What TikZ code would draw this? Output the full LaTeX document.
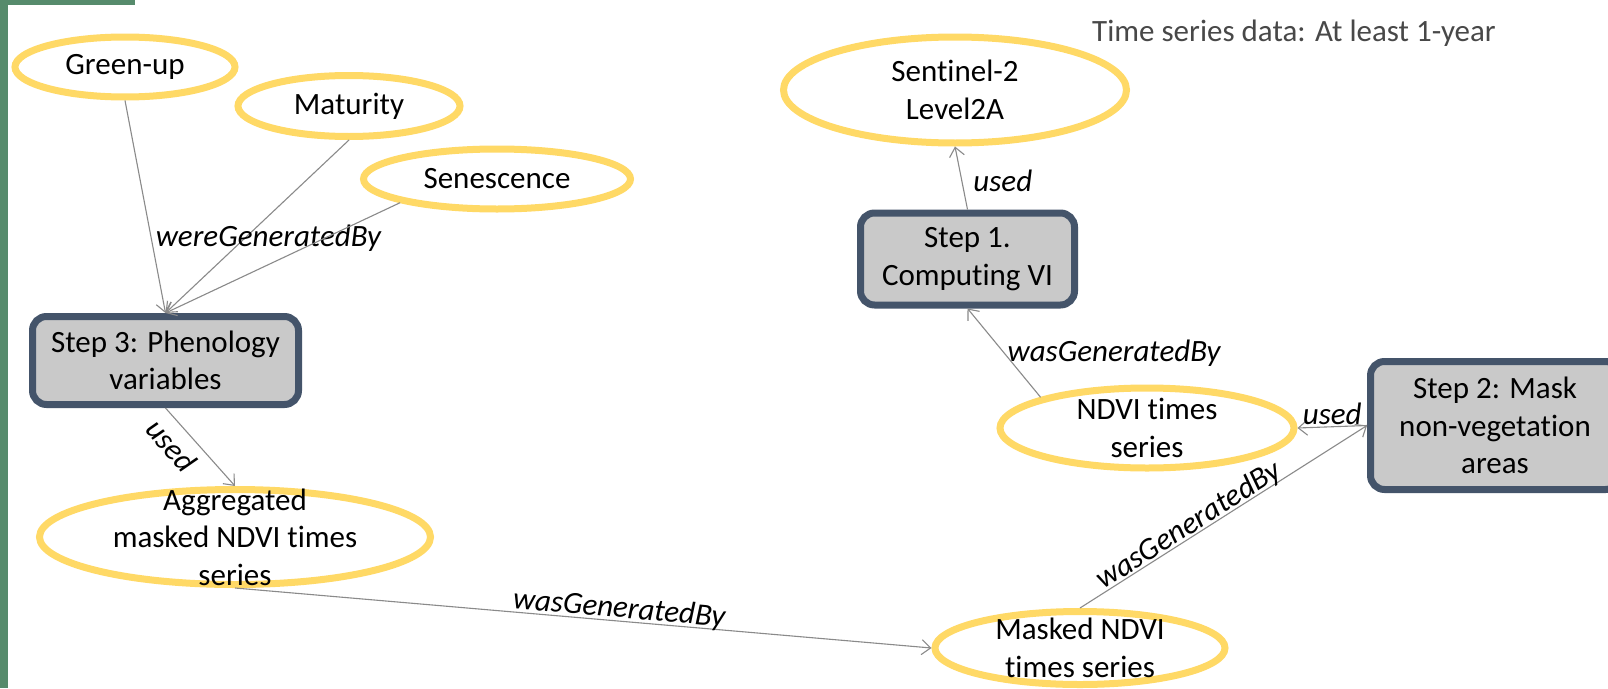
\documentclass[tikz,border=0pt]{standalone}
\usepackage{fontspec}
\setmainfont{Carlito}[Ligatures={NoCommon}]
\usetikzlibrary{arrows.meta,shapes.geometric}
\definecolor{barG}{RGB}{86,139,108}
\definecolor{ellY}{RGB}{255,217,102}
\definecolor{boxB}{RGB}{68,84,106}
\definecolor{boxF}{RGB}{201,201,201}
\definecolor{edgeG}{RGB}{138,138,138}
\definecolor{noteG}{RGB}{72,72,72}
\tikzset{
 ent/.style={ellipse, draw=ellY, line width=7pt, inner sep=0pt},
 enttext/.style={font=\fontsize{31}{37.5}\selectfont, align=center, text=black, inner sep=0pt},
 act/.style={rectangle, rounded corners=14pt, draw=boxB, fill=boxF, line width=7pt, font=\fontsize{31}{37.5}\selectfont, align=center, inner sep=0pt},
 rel/.style={draw=edgeG, line width=1.1pt, -{Straight Barb[length=9pt,width=15pt,line width=1.1pt]}},
 lab/.style={font=\fontsize{31}{37.5}\selectfont\itshape, inner sep=1pt, text=black},
}
\begin{document}
\begin{tikzpicture}[x=1pt,y=-1pt]
\useasboundingbox (0,0) rectangle (1608,688);
\clip (0,0) rectangle (1608,688);
\fill[white] (0,0) rectangle (1608,688);
% green frame bits
\fill[barG] (0,0) rectangle (7.5,688);
\fill[barG] (0,0) rectangle (135,5);

% note
\node[font=\fontsize{31}{37.5}\selectfont, text=noteG, anchor=base west, inner sep=0pt] (note) at (1092,41) {Time series data: At least 1-year};

% entities
\node[ent, minimum width=220pt, minimum height=60pt, label={[enttext]center:Green-up}] (gu) at (125,67) {};
\node[ent, minimum width=222pt, minimum height=61pt, label={[enttext]center:Maturity}] (mat) at (349,106) {};
\node[ent, minimum width=267pt, minimum height=60pt, label={[enttext]center:Senescence}] (sen) at (497,179) {};
\node[ent, minimum width=343pt, minimum height=106pt, label={[enttext]center:{Sentinel-2\\Level2A}}] (sent) at (955,90) {};
\node[ent, minimum width=294pt, minimum height=80pt, label={[enttext]center:{NDVI times\\series}}] (ndvi) at (1147,428) {};
\node[ent, minimum width=290pt, minimum height=73pt, label={[enttext]center:{Masked NDVI\\times series}}] (mask) at (1080,648) {};
\node[ent, minimum width=391pt, minimum height=95pt, label={[enttext]center:{Aggregated\\masked NDVI times\\series}}] (agg) at (235,537) {};

% activities
\node[act, minimum width=214pt, minimum height=92pt] (s1) at (967.5,259) {Step 1.\\Computing VI};
\node[act, minimum width=266pt, minimum height=88pt] (s3) at (165.5,360.5) {Step 3: Phenology\\variables};
\node[act, minimum width=249pt, minimum height=128pt] (s2) at (1495,425.5) {Step 2: Mask\\non-vegetation\\areas};

% relations
\draw[rel] (gu.south) -- (s3.north);
\draw[rel] (mat.south) -- (s3.north) node[lab, pos=0.57, xshift=24pt] {wereGeneratedBy};
\draw[rel] (sen.south west) -- (s3.north);
\draw[rel] (s1.north) -- (sent.south) node[lab, pos=0.45, right=10pt] {used};
\draw[rel] (ndvi.north west) -- (s1.south) node[lab, midway, right=2pt] {wasGeneratedBy};
\draw[rel] (s2.west) -- (ndvi.east) node[lab, midway, above=0pt] {used};
\draw[rel] (mask.north) -- (s2.west) node[lab, pos=0.4, above=-4pt, sloped] {wasGeneratedBy};
\draw[rel] (s3.south) -- (agg.north) node[lab, pos=0.31, below=8pt, sloped] {used};
\draw[rel] (agg.south) -- (mask.west) node[lab, pos=0.55, above=-3pt, sloped] {wasGeneratedBy};
\end{tikzpicture}
\end{document}
